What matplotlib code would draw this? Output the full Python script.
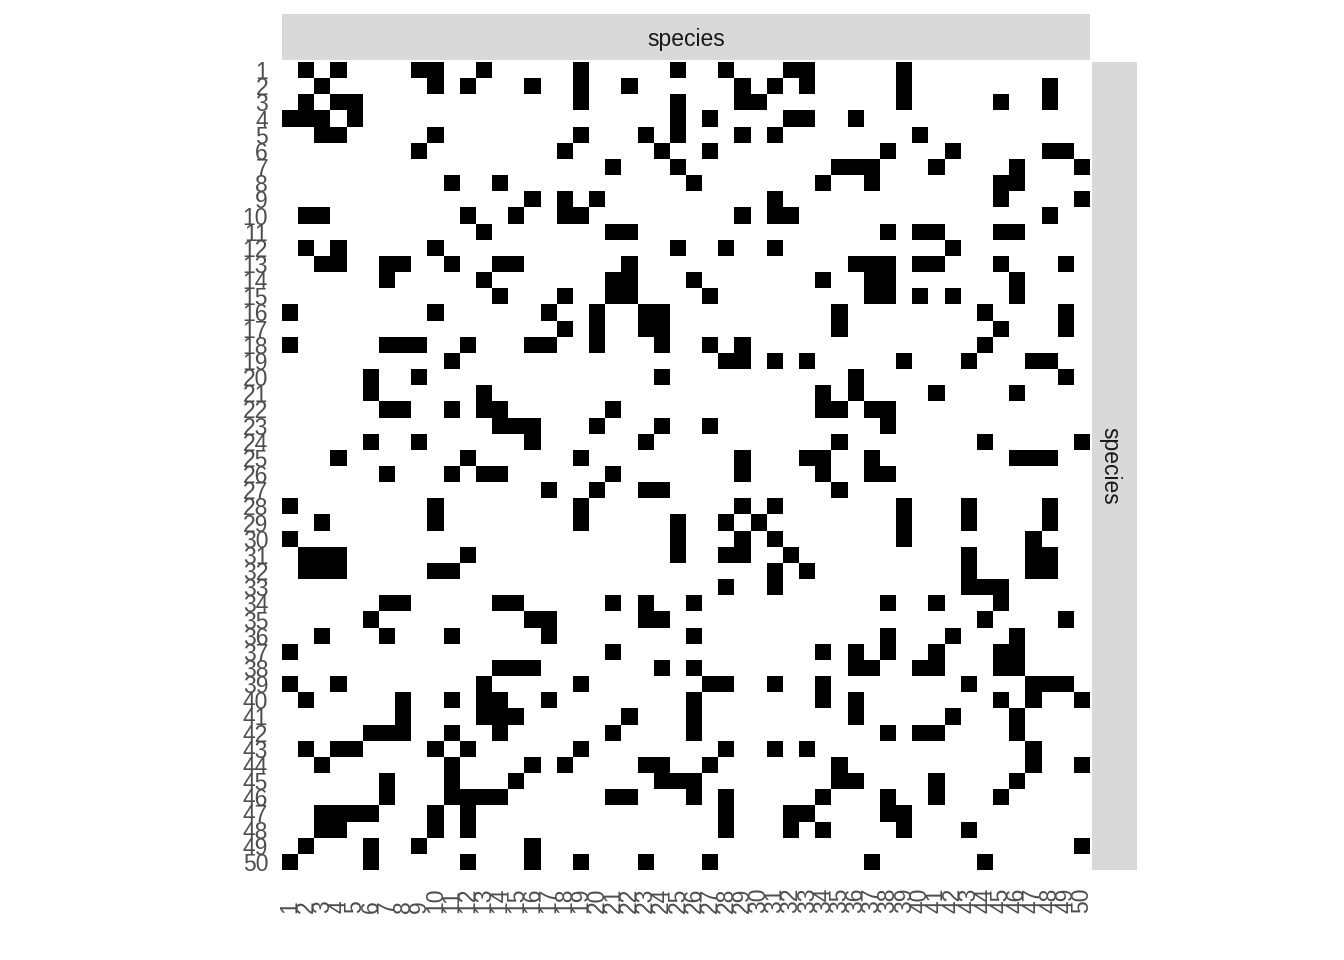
import numpy as np
import matplotlib
matplotlib.use("Agg")
from matplotlib import pyplot as plt
from matplotlib.colors import ListedColormap

plt.rcParams['font.family'] = ['Liberation Sans', 'DejaVu Sans']

# species labels 1..50 on both axes
species = [str(i) for i in range(1, 51)]

# columns that are filled (black) for each row species
sp1 = [2, 4, 9, 10, 13, 19, 25, 28, 32, 33, 39]
sp2 = [3, 10, 12, 16, 19, 22, 29, 31, 33, 39, 48]
sp3 = [2, 4, 5, 19, 25, 29, 30, 39, 45, 48]
sp4 = [1, 2, 3, 5, 25, 27, 32, 33, 36]
sp5 = [3, 4, 10, 19, 23, 25, 29, 31, 40]
sp6 = [9, 18, 24, 27, 38, 42, 48, 49]
sp7 = [21, 25, 35, 36, 37, 41, 46, 50]
sp8 = [11, 14, 26, 34, 37, 45, 46]
sp9 = [16, 18, 20, 31, 45, 50]
sp10 = [2, 3, 12, 15, 18, 19, 29, 31, 32, 48]
sp11 = [13, 21, 22, 38, 40, 41, 45, 46]
sp12 = [2, 4, 10, 25, 28, 31, 42]
sp13 = [3, 4, 7, 8, 11, 14, 15, 22, 36, 37, 38, 40, 41, 45, 49]
sp14 = [7, 13, 21, 22, 26, 34, 37, 38, 46]
sp15 = [14, 18, 21, 22, 27, 37, 38, 40, 42, 46]
sp16 = [1, 10, 17, 20, 23, 24, 35, 44, 49]
sp17 = [18, 20, 23, 24, 35, 45, 49]
sp18 = [1, 7, 8, 9, 12, 16, 17, 20, 24, 27, 29, 44]
sp19 = [11, 28, 29, 31, 33, 39, 43, 47, 48]
sp20 = [6, 9, 24, 36, 49]
sp21 = [6, 13, 34, 36, 41, 46]
sp22 = [7, 8, 11, 13, 14, 21, 34, 35, 37, 38]
sp23 = [14, 15, 16, 20, 24, 27, 38]
sp24 = [6, 9, 16, 23, 35, 44, 50]
sp25 = [4, 12, 19, 29, 33, 34, 37, 46, 47, 48]
sp26 = [7, 11, 13, 14, 21, 29, 34, 37, 38]
sp27 = [17, 20, 23, 24, 35]
sp28 = [1, 10, 19, 29, 31, 39, 43, 48]
sp29 = [3, 10, 19, 25, 28, 30, 39, 43, 48]
sp30 = [1, 25, 29, 31, 39, 47]
sp31 = [2, 3, 4, 12, 25, 28, 29, 32, 43, 47, 48]
sp32 = [2, 3, 4, 10, 11, 31, 33, 43, 47, 48]
sp33 = [28, 31, 43, 44, 45]
sp34 = [7, 8, 14, 15, 21, 23, 26, 38, 41, 45]
sp35 = [6, 16, 17, 23, 24, 44, 49]
sp36 = [3, 7, 11, 17, 26, 38, 42, 46]
sp37 = [1, 21, 34, 36, 38, 41, 45, 46]
sp38 = [14, 15, 16, 24, 26, 36, 37, 40, 41, 45, 46]
sp39 = [1, 4, 13, 19, 27, 28, 31, 34, 43, 47, 48, 49]
sp40 = [2, 8, 11, 13, 14, 17, 26, 34, 36, 45, 47, 50]
sp41 = [8, 13, 14, 15, 22, 26, 36, 42, 46]
sp42 = [6, 7, 8, 11, 14, 21, 26, 38, 40, 41, 46]
sp43 = [2, 4, 5, 10, 12, 19, 28, 31, 33, 47]
sp44 = [3, 11, 16, 18, 23, 24, 27, 35, 47, 50]
sp45 = [7, 11, 15, 24, 25, 26, 35, 36, 41, 46]
sp46 = [7, 11, 12, 13, 14, 21, 22, 26, 28, 34, 38, 41, 45]
sp47 = [3, 4, 5, 6, 10, 12, 28, 32, 33, 38, 39]
sp48 = [3, 4, 10, 12, 28, 32, 34, 39, 43]
sp49 = [2, 6, 9, 16, 50]
sp50 = [1, 6, 12, 16, 19, 23, 27, 37, 44]

rows = [sp1, sp2, sp3, sp4, sp5, sp6, sp7, sp8, sp9, sp10,
        sp11, sp12, sp13, sp14, sp15, sp16, sp17, sp18, sp19, sp20,
        sp21, sp22, sp23, sp24, sp25, sp26, sp27, sp28, sp29, sp30,
        sp31, sp32, sp33, sp34, sp35, sp36, sp37, sp38, sp39, sp40,
        sp41, sp42, sp43, sp44, sp45, sp46, sp47, sp48, sp49, sp50]

n = len(species)
mat = np.zeros((n, n))
for i, cols in enumerate(rows):
    for c in cols:
        mat[i, c - 1] = 1

W, H = 1344, 960
fig = plt.figure(figsize=(W / 100, H / 100), dpi=100)

def box(x0, y0, x1, y1):
    # pixel box (top-left origin) -> figure fraction
    return [x0 / W, 1 - y1 / H, (x1 - x0) / W, (y1 - y0) / H]

ax = fig.add_axes(box(282, 62, 1090, 870))
edges = np.arange(n + 1) + 0.5
ax.pcolormesh(edges, edges, mat, cmap=ListedColormap(['white', 'black']),
              vmin=0, vmax=1)
ax.set_xlim(0.5, n + 0.5)
ax.set_ylim(n + 0.5, 0.5)
for s in ax.spines.values():
    s.set_visible(False)

ticks = np.arange(1, n + 1)
ax.set_xticks(ticks)
ax.set_xticklabels(species, rotation=90)
ax.set_yticks(ticks)
ax.set_yticklabels(species)
ax.tick_params(axis='y', length=0, pad=10, labelsize=16.5, labelcolor='#4D4D4D')
ax.tick_params(axis='x', length=0, pad=31, labelsize=16.5, labelcolor='#4D4D4D')
for lab in ax.get_xticklabels():
    lab.set_va('bottom')

# facet strips
top = fig.add_axes(box(282, 14, 1090, 60))
top.set_facecolor('#D9D9D9')
top.set_xticks([])
top.set_yticks([])
for s in top.spines.values():
    s.set_visible(False)
top.text(0.5, 0.45, 'species', ha='center', va='center', fontsize=16.5,
         color='#1A1A1A', transform=top.transAxes)

right = fig.add_axes(box(1092, 62, 1137, 870))
right.set_facecolor('#D9D9D9')
right.set_xticks([])
right.set_yticks([])
for s in right.spines.values():
    s.set_visible(False)
right.text(0.4, 0.5, 'species', ha='center', va='center', fontsize=16.5,
           color='#1A1A1A', rotation=-90, transform=right.transAxes)

fig.savefig('out.png', dpi=100)
